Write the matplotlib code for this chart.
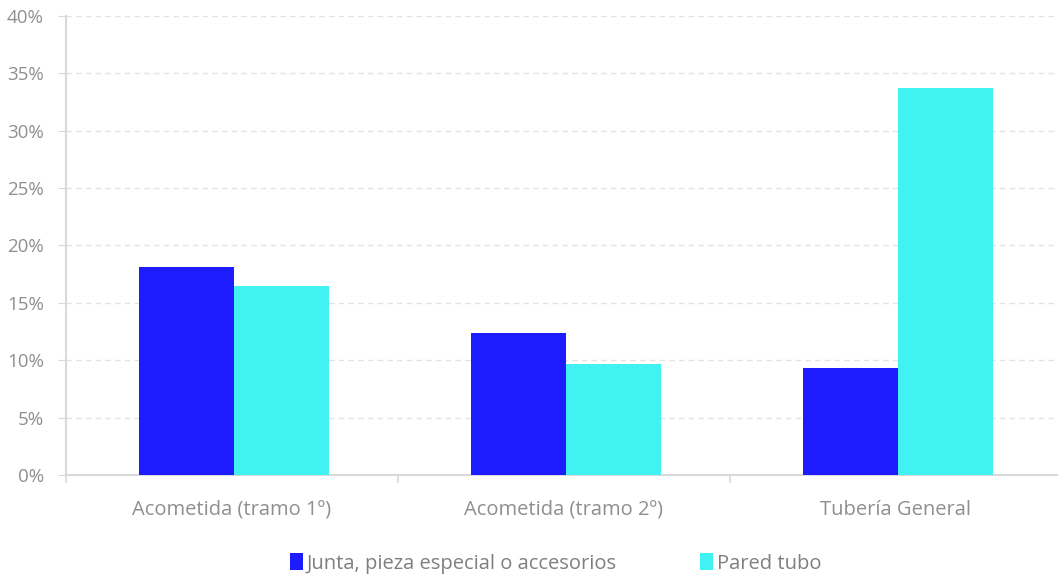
import numpy as np
import matplotlib.pyplot as plt
from matplotlib.ticker import FuncFormatter, MultipleLocator

categories = ['Acometida (tramo 1º)', 'Acometida (tramo 2º)', 'Tubería General']
junta = [18.1, 12.4, 9.3]
pared = [16.5, 9.7, 33.7]
series_names = ['Junta, pieza especial o accesorios', 'Pared tubo']

blue = '#1c1cff'
cyan = '#40f2f2'
grey_txt = '#8f8f8f'
grey_line = '#d9d9d9'

plt.rcParams['font.family'] = ['Open Sans', 'DejaVu Sans']

fig = plt.figure(figsize=(10.58, 5.81), dpi=100)
ax = fig.add_axes([66 / 1058, (581 - 475) / 581, 996 / 1058, 459 / 581])

x = np.arange(len(categories))
w = 0.285
b1 = ax.bar(x - w / 2 + 0.006, junta, width=w, color=blue, zorder=3)
b2 = ax.bar(x + w / 2 + 0.006, pared, width=w, color=cyan, zorder=3)

ax.set_xlim(-0.5, len(categories) - 0.5)
ax.set_ylim(0, 40)
ax.yaxis.set_major_locator(MultipleLocator(5))
ax.yaxis.set_major_formatter(FuncFormatter(lambda v, p: f'{v:.0f}%'))
ax.grid(axis='y', color='#e3e3e3', linestyle=(0, (4, 3)), linewidth=1, zorder=0)

ax.set_xticks(x)
ax.set_xticklabels(categories)
ax.set_xticks(np.arange(-0.5, len(categories)), minor=True)
ax.tick_params(axis='x', which='major', length=0, pad=18, labelsize=14.5, labelcolor=grey_txt)
ax.tick_params(axis='x', which='minor', length=6, color=grey_line, width=1.2)
ax.tick_params(axis='y', length=6, color=grey_line, labelsize=13.5, labelcolor=grey_txt, pad=10)

for s in ['top', 'right']:
    ax.spines[s].set_visible(False)
for s in ['left', 'bottom']:
    ax.spines[s].set_color(grey_line)
    ax.spines[s].set_linewidth(1.5)

leg = fig.legend([b1, b2], series_names, loc='center', bbox_to_anchor=(0.525, 0.03),
                 ncol=2, frameon=False, fontsize=14.5, handlelength=0.65, handleheight=0.9,
                 handletextpad=0.2, columnspacing=4.1)
for t in leg.get_texts():
    t.set_color('#7f7f7f')

fig.savefig('out.png', dpi=100)
